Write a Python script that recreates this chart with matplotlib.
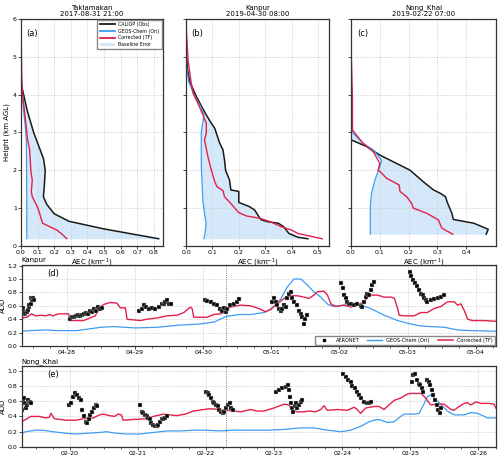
import pandas as pd
import matplotlib
matplotlib.use("Agg")
import matplotlib.pyplot as plt
import matplotlib.dates as mdates
from matplotlib.patches import Patch
from matplotlib.lines import Line2D

# ---- vertical profiles (AEC km^-1 vs height km) ----
# (a) Taklamakan 2017-08-31 21:00
tk_obs_h = [0.19, 0.45, 0.65, 0.85, 1.1, 1.3, 1.55, 2.0, 2.3, 3.0, 3.6, 4.0, 4.25, 4.5, 6.0]
tk_obs_x = [0.83, 0.50, 0.29, 0.20, 0.155, 0.135, 0.14, 0.146, 0.136, 0.076, 0.036, 0.016, 0.002, 0.0, 0.0]
tk_ori_h = [0.19, 1.0, 2.0, 2.8, 3.2, 3.6, 4.0, 4.4, 6.0]
tk_ori_x = [0.035, 0.035, 0.034, 0.032, 0.025, 0.015, 0.006, 0.0, 0.0]
tk_cor_h = [0.19, 0.3, 0.42, 0.6, 0.86, 1.02, 1.23, 1.3, 1.44, 1.74, 1.94, 2.54, 2.8, 3.2, 3.6, 4.0, 4.5, 6.0]
tk_cor_x = [0.276, 0.25, 0.216, 0.13, 0.112, 0.10, 0.076, 0.068, 0.062, 0.068, 0.06, 0.052, 0.04, 0.03, 0.02, 0.01, 0.004, 0.0]

# (b) Kanpur 2019-04-30 08:00
kp_obs_h = [0.19, 0.23, 0.33, 0.51, 0.6, 0.64, 0.69, 0.73, 0.95, 1.04, 1.15, 1.44, 1.48, 1.74, 2.0, 2.27,
            2.54, 2.71, 2.98, 3.11, 3.24, 3.46, 3.7, 3.95, 4.34, 4.7, 5.2, 6.0]
kp_obs_x = [0.462, 0.424, 0.39, 0.37, 0.35, 0.31, 0.285, 0.28, 0.26, 0.24, 0.20, 0.20, 0.17, 0.165, 0.15, 0.146,
            0.14, 0.128, 0.115, 0.109, 0.096, 0.077, 0.058, 0.039, 0.014, 0.005, 0.0, 0.0]
kp_ori_h = [0.19, 0.38, 0.6, 0.86, 1.2, 2.1, 3.0, 3.46, 3.68, 3.95, 4.34, 4.74, 5.2, 6.0]
kp_ori_x = [0.068, 0.073, 0.076, 0.07, 0.064, 0.058, 0.058, 0.068, 0.056, 0.033, 0.01, 0.002, 0.0, 0.0]
kp_cor_h = [0.19, 0.33, 0.42, 0.51, 0.64, 0.73, 0.79, 0.88, 1.12, 1.3, 1.46, 1.57, 1.7, 2.0, 2.36, 2.8,
            2.98, 3.24, 3.46, 3.77, 4.03, 4.38, 4.9, 5.6, 6.0]
kp_cor_x = [0.516, 0.424, 0.40, 0.36, 0.32, 0.28, 0.23, 0.20, 0.17, 0.146, 0.14, 0.117, 0.109, 0.096, 0.083, 0.07,
            0.077, 0.077, 0.064, 0.045, 0.027, 0.018, 0.008, 0.002, 0.0]

# (c) Nong_Khai 2019-02-22 07:00
nk_obs_h = [0.31, 0.44, 0.6, 0.7, 0.86, 1.17, 1.3, 1.39, 1.48, 1.7, 2.0, 2.18, 2.4, 2.63, 2.8, 3.0, 6.0]
nk_obs_x = [0.469, 0.476, 0.426, 0.355, 0.35, 0.333, 0.328, 0.31, 0.286, 0.25, 0.205, 0.158, 0.10, 0.053, 0.001, 0.0, 0.0]
nk_ori_h = [0.31, 1.04, 1.39, 1.74, 2.1, 2.25, 2.32, 2.54, 2.71, 2.98, 3.15, 6.0]
nk_ori_x = [0.067, 0.067, 0.071, 0.083, 0.10, 0.106, 0.10, 0.077, 0.042, 0.007, 0.0, 0.0]
nk_cor_h = [0.31, 0.47, 0.69, 0.86, 1.0, 1.13, 1.3, 1.44, 1.61, 1.79, 1.97, 2.0, 2.18, 2.49, 2.71, 3.06, 3.86, 5.0, 6.0]
nk_cor_x = [0.353, 0.315, 0.303, 0.263, 0.216, 0.21, 0.193, 0.17, 0.167, 0.123, 0.10, 0.094, 0.10, 0.077, 0.042, 0.005,
            0.005, 0.001, 0.0]

# ---- AOD time series (hours since window start) ----
kp_start = "2019-04-27 08:00"
kp_event = "2019-04-30 08:00"
kp_geos_t = [0, 3, 9, 12.5, 16, 19.5, 28, 32.5, 40, 48, 55, 63, 68, 72, 75, 77, 80.7, 85.4, 88, 91.3, 93.6, 96,
             98.4, 100.7, 103, 105.4, 108, 110, 113.6, 116, 119.5, 123, 127.8, 132.5, 137, 140.7, 144, 149,
             153.6, 158.4, 167]
kp_geos_v = [0.22, 0.23, 0.24, 0.23, 0.23, 0.23, 0.28, 0.29, 0.27, 0.28, 0.31, 0.33, 0.36, 0.44, 0.46, 0.47,
             0.47, 0.50, 0.55, 0.70, 0.88, 1.00, 1.00, 0.91, 0.81, 0.73, 0.62, 0.59, 0.61, 0.62, 0.61, 0.56,
             0.46, 0.38, 0.33, 0.30, 0.29, 0.28, 0.24, 0.23, 0.22]
kp_tf_t = [0, 2, 3.5, 5, 7, 8.5, 10, 11, 13, 16.6, 17.2, 21.9, 24.2, 26, 26.6, 27.8, 28.9, 31.3, 33.6, 34.8,
           36.6, 37.2, 41.9, 44.2, 47.8, 51.3, 54.8, 57.2, 58.3, 59.5, 60.1, 60.7, 65.4, 67.7, 70.1, 71.3,
           72.5, 73.6, 77.2, 80.7, 84.2, 86, 87.8, 90.1, 92.5, 94.8, 97.2, 99.5, 101.3, 103, 104.2, 106.6,
           107.8, 109, 110.7, 113.6, 116, 118.3, 120.7, 122.5, 125.4, 127.8, 130.2, 131.4, 132.5, 133.1,
           134.9, 138.3, 140.7, 143, 145.4, 147.8, 150.1, 152.5, 153.6, 154.8, 156, 157.2, 158.9, 163, 167]
kp_tf_v = [0.42, 0.43, 0.48, 0.45, 0.46, 0.45, 0.47, 0.45, 0.48, 0.48, 0.38, 0.38, 0.42, 0.45, 0.50, 0.58,
           0.62, 0.65, 0.64, 0.57, 0.57, 0.40, 0.38, 0.40, 0.42, 0.45, 0.46, 0.50, 0.54, 0.58, 0.56, 0.43,
           0.43, 0.47, 0.48, 0.50, 0.55, 0.58, 0.61, 0.60, 0.55, 0.51, 0.55, 0.63, 0.71, 0.75, 0.75, 0.73,
           0.71, 0.76, 0.81, 0.82, 0.76, 0.63, 0.59, 0.61, 0.58, 0.61, 0.66, 0.76, 0.76, 0.73, 0.73, 0.71,
           0.56, 0.46, 0.45, 0.45, 0.50, 0.50, 0.56, 0.59, 0.66, 0.66, 0.61, 0.63, 0.53, 0.40, 0.38, 0.38, 0.37]
kp_aer_t = [0, 0.36, 0.7, 1.06, 1.4, 1.9, 2.2, 2.6, 2.8, 3.2, 3.4, 3.7, 4.1, 4.4,
            17.2, 17.8, 18.5, 19.2, 19.9, 20.6, 21.3, 22.0, 22.7, 23.4, 24.1, 24.8, 25.5, 26.2, 26.9, 27.6, 28.3,
            41.3, 42.5, 43, 43.9, 44.8, 46, 47.2, 48.3, 49.5, 50.1, 50.7, 51.3, 51.9, 52.5,
            64.5, 65.4, 66.6, 67.7, 68.9, 70.1, 70.7, 71.3, 71.9, 72.5, 73.6, 74.8, 76, 76.6,
            88.3, 88.9, 89.5, 90.1, 90.7, 91.3, 91.9, 92.5, 93.1, 93.6, 94.2, 94.8, 95.4, 96, 97.2, 97.8, 98.3,
            98.9, 99.5, 99.9, 100.5,
            112.5, 113.1, 113.6, 114.2, 114.8, 115.4, 116, 117.2, 118.3, 119.5, 120.1, 120.7, 121.3, 121.9,
            122.4, 123, 123.6, 124.2,
            136.9, 137.4, 138.1, 138.7, 139.3, 140.1, 140.7, 141.3, 141.9, 142.4, 143, 144.2, 145.4, 146.6,
            147.8, 148.7]
kp_aer_v = [0.55, 0.57, 0.52, 0.48, 0.50, 0.51, 0.54, 0.58, 0.61, 0.63, 0.72, 0.69, 0.71, 0.68,
            0.40, 0.43, 0.44, 0.45, 0.46, 0.45, 0.47, 0.48, 0.50, 0.48, 0.52, 0.51, 0.55, 0.53, 0.58, 0.55, 0.57,
            0.52, 0.56, 0.61, 0.58, 0.56, 0.57, 0.56, 0.58, 0.62, 0.63, 0.66, 0.68, 0.63, 0.62,
            0.68, 0.67, 0.66, 0.63, 0.61, 0.56, 0.53, 0.57, 0.51, 0.56, 0.61, 0.63, 0.66, 0.70,
            0.66, 0.71, 0.66, 0.61, 0.56, 0.53, 0.56, 0.61, 0.58, 0.71, 0.78, 0.81, 0.71, 0.66, 0.61, 0.53, 0.48,
            0.43, 0.33, 0.40, 0.47,
            0.94, 0.86, 0.76, 0.71, 0.66, 0.63, 0.62, 0.61, 0.62, 0.60, 0.58, 0.66, 0.73, 0.78,
            0.76, 0.83, 0.91, 0.96,
            1.11, 1.05, 0.99, 0.94, 0.89, 0.83, 0.78, 0.76, 0.72, 0.68, 0.66, 0.68, 0.70, 0.72,
            0.73, 0.76]

nk_start = "2019-02-19 07:00"
nk_event = "2019-02-22 07:00"
nk_geos_t = [0, 1.5, 5, 7.4, 11, 15.7, 19.2, 22.8, 27.5, 29.9, 33.4, 37, 41.7, 46.4, 51.2, 55.9, 60.6, 65.3,
             70, 74.8, 80.7, 86.6, 92.5, 98.3, 103, 107.8, 112.5, 116, 119.5, 122.5, 124.2, 126, 128.9,
             131.3, 133.6, 134.8, 138.3, 140.1, 141.9, 143, 144.2, 145.4, 147.7, 150.1, 152.4, 156, 158.3,
             160.7, 164.2, 167]
nk_geos_v = [0.18, 0.20, 0.22, 0.22, 0.20, 0.18, 0.17, 0.18, 0.19, 0.20, 0.18, 0.17, 0.17, 0.19, 0.21, 0.21,
             0.22, 0.22, 0.21, 0.22, 0.22, 0.22, 0.23, 0.25, 0.25, 0.22, 0.20, 0.22, 0.27, 0.33, 0.35, 0.36,
             0.32, 0.33, 0.40, 0.43, 0.43, 0.44, 0.57, 0.66, 0.68, 0.64, 0.56, 0.47, 0.42, 0.42, 0.45,
             0.44, 0.38, 0.38]
nk_tf_t = [0, 1.5, 3.3, 6.2, 8.6, 9.8, 10.4, 11.6, 15.7, 19.2, 21.6, 25.2, 27.5, 28.7, 31.1, 32.8, 34, 35.2,
           35.8, 39.3, 44.1, 46.4, 50, 52.3, 54.7, 57.7, 60.6, 64.2, 66.5, 70.1, 72.4, 77.2, 80.7, 83.1, 85.4,
           88.9, 92.5, 94.2, 95.4, 97.2, 99.5, 101.3, 103.6, 105.4, 106.6, 107.7, 111.3, 114.8, 117.2, 118.3,
           119.5, 121.3, 124.2, 126, 127.7, 128.9, 131.3, 133.6, 135.4, 136.6, 140.7, 141.9, 144.2, 146.6,
           148.9, 151.3, 152.4, 154.2, 156, 157.1, 158.3, 160.1, 161.9, 164.8, 166.5, 167.1]
nk_tf_v = [0.33, 0.36, 0.40, 0.40, 0.38, 0.39, 0.44, 0.37, 0.35, 0.35, 0.37, 0.38, 0.42, 0.43, 0.41, 0.40,
           0.43, 0.42, 0.35, 0.36, 0.37, 0.40, 0.43, 0.42, 0.41, 0.43, 0.47, 0.49, 0.50, 0.49, 0.48, 0.46,
           0.49, 0.47, 0.47, 0.51, 0.56, 0.55, 0.48, 0.46, 0.46, 0.47, 0.46, 0.49, 0.54, 0.48, 0.49, 0.48,
           0.52, 0.49, 0.44, 0.51, 0.53, 0.53, 0.49, 0.53, 0.61, 0.64, 0.68, 0.70, 0.70, 0.66, 0.55, 0.56,
           0.56, 0.49, 0.48, 0.53, 0.57, 0.58, 0.55, 0.59, 0.57, 0.57, 0.56, 0.51]
nk_aer_t = [0, 0.2, 0.6, 0.9, 1.3, 1.6, 2, 2.4, 2.7, 3.1, 3.4,
            16.9, 17.5, 18.3, 19, 19.5, 20.2, 20.8, 21.4, 22, 22.6, 23.1, 23.7, 24.3, 24.9, 25.5, 26.1, 26.6,
            41.7, 42.3, 42.9, 43.5, 44.1, 44.7, 45.3, 45.8, 46.4, 47, 47.6, 48.2, 48.8, 49.4, 50, 50.6, 51.2,
            65, 65.6, 66.2, 66.8, 67.4, 67.9, 68.5, 69.1, 69.7, 70.3, 70.9, 71.5, 72.1, 72.7, 73.3, 73.9, 74.4,
            89.5, 90.7, 91.9, 93.1, 93.9, 94.2, 94.6, 95.1, 95.4, 95.8, 96.2, 96.7, 97.2, 97.8, 98.3, 98.9,
            113.4, 114.2, 115, 116, 116.6, 117.4, 118.1, 118.9, 119.7, 120.7, 121.6, 122.4, 123,
            137.5, 138.1, 138.7, 139.3, 139.9, 140.4, 141, 141.6, 142.8, 143.4, 144, 144.6, 145.1, 145.7,
            146.3, 146.9, 147.3, 147.7]
nk_aer_v = [0.48, 0.57, 0.61, 0.64, 0.57, 0.51, 0.55, 0.61, 0.57, 0.59, 0.58,
            0.55, 0.57, 0.66, 0.70, 0.68, 0.64, 0.61, 0.48, 0.40, 0.33, 0.32, 0.36, 0.42, 0.46, 0.51, 0.55, 0.53,
            0.55, 0.46, 0.44, 0.42, 0.41, 0.38, 0.36, 0.31, 0.29, 0.28, 0.28, 0.29, 0.33, 0.36, 0.36, 0.38, 0.40,
            0.72, 0.70, 0.68, 0.64, 0.59, 0.57, 0.55, 0.53, 0.49, 0.46, 0.44, 0.46, 0.51, 0.55, 0.57, 0.51, 0.48,
            0.72, 0.75, 0.77, 0.79, 0.81, 0.75, 0.66, 0.57, 0.51, 0.46, 0.53, 0.57, 0.51, 0.55, 0.59, 0.62,
            0.95, 0.92, 0.88, 0.85, 0.80, 0.77, 0.72, 0.68, 0.64, 0.59, 0.57, 0.58, 0.59,
            0.85, 0.94, 0.95, 0.87, 0.83, 0.81, 0.77, 0.72, 0.88, 0.85, 0.81, 0.75, 0.68, 0.61,
            0.55, 0.48, 0.45, 0.51]

C_OBS = "#1a1a1a"
C_ORI = "#3d9df2"
C_TF = "#e3204b"
C_FILL = "#d5e8fa"

plt.rcParams["font.family"] = "DejaVu Sans"
plt.rcParams["font.size"] = 5


def to_time(start, hours):
    return pd.Timestamp(start) + pd.to_timedelta(hours, unit="h")


def profile(ax, obs_x, obs_h, ori_x, ori_h, cor_x, cor_h, label, title, xmax, xticks):
    # baseline error = gap between obs and original model
    ori_on_obs = pd.Series(ori_x, index=ori_h).reindex(sorted(set(ori_h) | set(obs_h))).interpolate(method="index")
    ax.fill_betweenx(obs_h, ori_on_obs.reindex(obs_h).values, obs_x, color=C_FILL, lw=0)
    ax.plot(obs_x, obs_h, color=C_OBS, lw=1.1)
    ax.plot(ori_x, ori_h, color=C_ORI, lw=0.9)
    ax.plot(cor_x, cor_h, color=C_TF, lw=1.0)
    ax.set_xlim(0, xmax)
    ax.set_ylim(0, 6)
    ax.set_xticks(xticks)
    ax.set_yticks(range(7))
    ax.grid(True, ls="--", lw=0.4, color="#cccccc")
    ax.set_title(title, fontsize=5, pad=2, linespacing=1.0)
    ax.set_xlabel("AEC (km$^{-1}$)", fontsize=5, labelpad=1)
    ax.text(0.04, 0.955, label, transform=ax.transAxes, fontsize=6, va="top")
    ax.tick_params(labelsize=4.5, length=2, width=0.5, pad=1)
    for s in ax.spines.values():
        s.set_linewidth(0.9)
        s.set_color("#333333")


def series(ax, start, event, aer_t, aer_v, geos_t, geos_v, tf_t, tf_v, label, site, ymax, yticks):
    ax.plot(to_time(start, geos_t), geos_v, color=C_ORI, lw=0.9)
    ax.plot(to_time(start, tf_t), tf_v, color=C_TF, lw=1.0)
    ax.plot(to_time(start, aer_t), aer_v, ls="none", marker="s", ms=2.2, mfc="k", mec="#d0d0d0", mew=0.3)
    ax.axvline(pd.Timestamp(event), color="#555555", ls=":", lw=0.6)
    ax.set_xlim(pd.Timestamp(start), pd.Timestamp(start) + pd.Timedelta(hours=167))
    ax.set_ylim(0, ymax)
    ax.set_yticks(yticks)
    ax.xaxis.set_major_locator(mdates.DayLocator())
    ax.xaxis.set_major_formatter(mdates.DateFormatter("%m-%d"))
    ax.xaxis.set_minor_locator(mdates.HourLocator(byhour=[6, 12, 18]))
    ax.grid(True, which="major", ls="--", lw=0.4, color="#cccccc")
    ax.set_ylabel("AOD", fontsize=5, labelpad=1)
    ax.set_title(site, loc="left", fontsize=5, pad=2)
    ax.text(0.055, 0.95, label, transform=ax.transAxes, fontsize=6, va="top")
    ax.tick_params(labelsize=4.5, length=2, width=0.5, pad=1)
    ax.tick_params(which="minor", length=1.2, width=0.4)
    for s in ax.spines.values():
        s.set_linewidth(0.9)
        s.set_color("#333333")


fig = plt.figure(figsize=(5.0, 4.58), dpi=100)

ax_a = fig.add_axes([0.042, 0.463, 0.284, 0.496])
ax_b = fig.add_axes([0.372, 0.463, 0.286, 0.496])
ax_c = fig.add_axes([0.702, 0.463, 0.290, 0.496])

profile(ax_a, tk_obs_x, tk_obs_h, tk_ori_x, tk_ori_h, tk_cor_x, tk_cor_h, "(a)",
        "Taklamakan\n2017-08-31 21:00", 0.856, [0, 0.1, 0.2, 0.3, 0.4, 0.5, 0.6, 0.7, 0.8])
profile(ax_b, kp_obs_x, kp_obs_h, kp_ori_x, kp_ori_h, kp_cor_x, kp_cor_h, "(b)",
        "Kanpur\n2019-04-30 08:00", 0.542, [0, 0.1, 0.2, 0.3, 0.4, 0.5])
profile(ax_c, nk_obs_x, nk_obs_h, nk_ori_x, nk_ori_h, nk_cor_x, nk_cor_h, "(c)",
        "Nong_Khai\n2019-02-22 07:00", 0.503, [0, 0.1, 0.2, 0.3, 0.4])
ax_a.set_ylabel("Height (km AGL)", fontsize=5, labelpad=2)
ax_b.tick_params(labelleft=False)
ax_c.tick_params(labelleft=False)

handles = [Line2D([], [], color=C_OBS, lw=1.3), Line2D([], [], color=C_ORI, lw=1.3),
           Line2D([], [], color=C_TF, lw=1.3), Patch(facecolor=C_FILL, edgecolor="none")]
ax_a.legend(handles, ["CALIOP (Obs)", "GEOS-Chem (Ori)", "Corrected (TF)", "Baseline Error"],
            loc="upper right", fontsize=3.4, frameon=True, handlelength=3.2, borderpad=0.5,
            labelspacing=0.35, borderaxespad=0.2, fancybox=False, edgecolor="#888888", framealpha=1)

ax_d = fig.add_axes([0.043, 0.2445, 0.948, 0.177])
ax_e = fig.add_axes([0.043, 0.024, 0.948, 0.177])

series(ax_d, kp_start, kp_event, kp_aer_t, kp_aer_v, kp_geos_t, kp_geos_v, kp_tf_t, kp_tf_v,
       "(d)", "Kanpur", 1.21, [0, 0.2, 0.4, 0.6, 0.8, 1.0, 1.2])
series(ax_e, nk_start, nk_event, nk_aer_t, nk_aer_v, nk_geos_t, nk_geos_v, nk_tf_t, nk_tf_v,
       "(e)", "Nong_Khai", 1.06, [0, 0.2, 0.4, 0.6, 0.8, 1.0])

leg_h = [Line2D([], [], ls="none", marker="s", ms=1.8, mfc="k", mec="k"),
         Line2D([], [], color=C_ORI, lw=1.0), Line2D([], [], color=C_TF, lw=1.1)]
ax_d.legend(leg_h, ["AERONET", "GEOS-Chem (Ori)", "Corrected (TF)"], loc="lower right", ncol=3,
            fontsize=3.6, frameon=True, handlelength=3.0, columnspacing=1.6, borderpad=0.4,
            borderaxespad=0.2, fancybox=False, edgecolor="#888888", framealpha=1)

fig.savefig("out.png", dpi=100)
